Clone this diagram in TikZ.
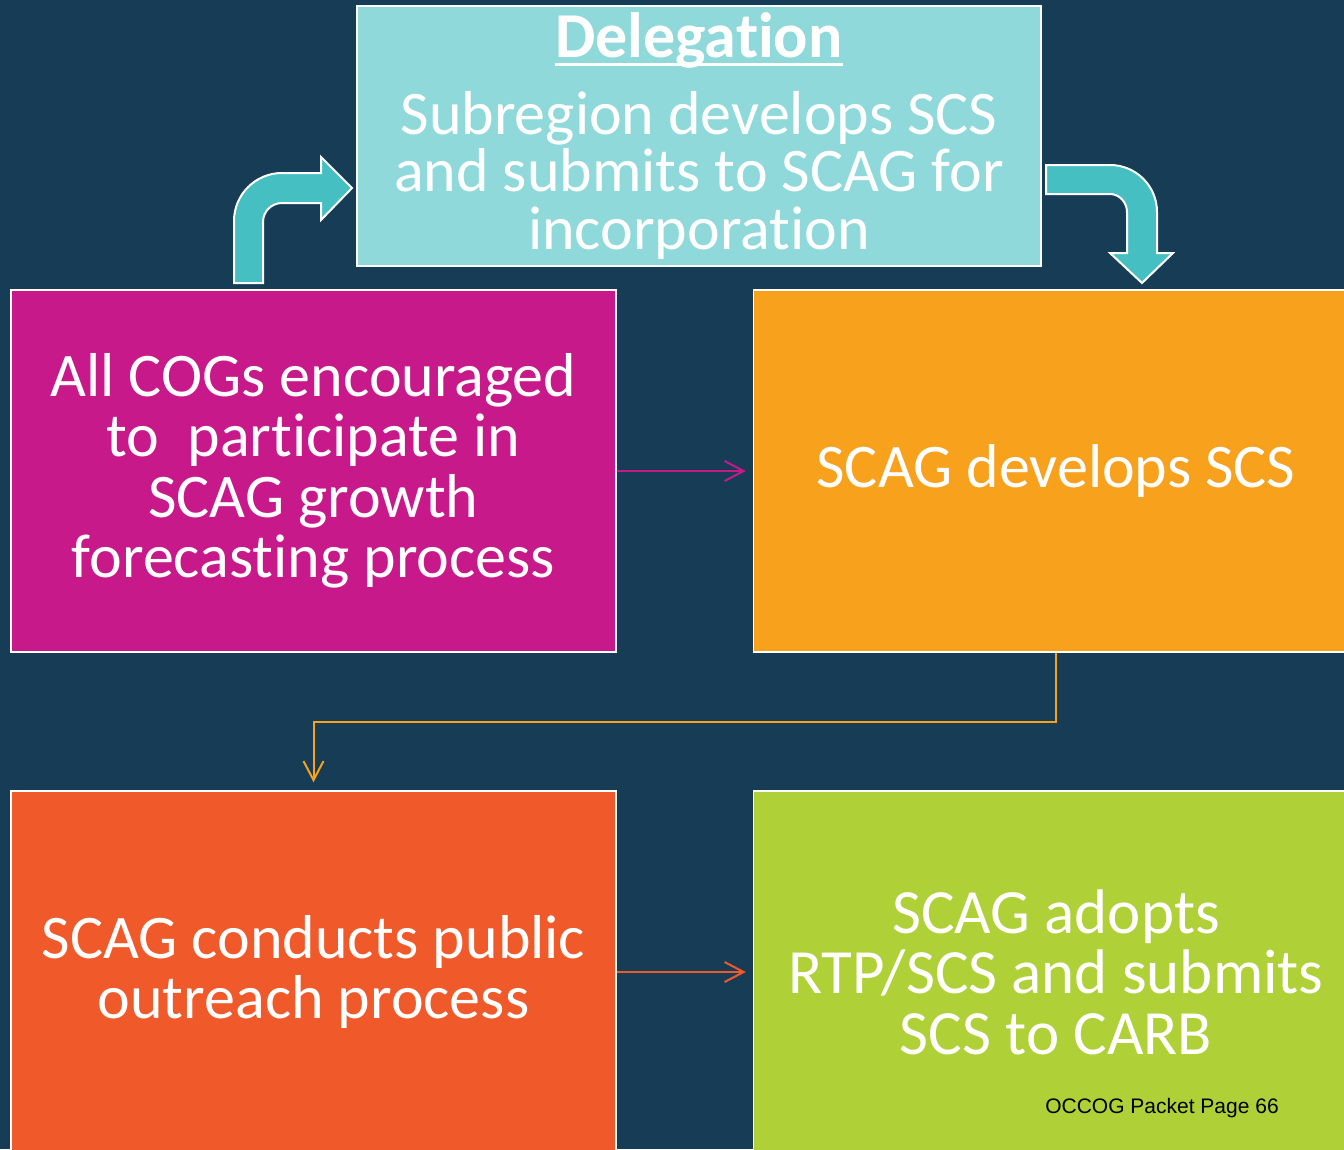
\documentclass[tikz,border=0pt]{standalone}
\usepackage{fontspec}
\setmainfont[Ligatures=NoCommon]{Carlito}
\newfontfamily\footfont{Liberation Sans}
\usetikzlibrary{arrows.meta}

\definecolor{slate}{HTML}{173C56}
\definecolor{aqua}{HTML}{90D9DB}
\definecolor{turq}{HTML}{46BFC3}
\definecolor{berry}{HTML}{C8198A}
\definecolor{amber}{HTML}{F7A11C}
\definecolor{flame}{HTML}{F05A2B}
\definecolor{lime}{HTML}{AFD037}

\tikzset{
  stage/.style={draw=white, line width=1.5pt, text=white, align=center, inner sep=0pt,
    minimum width=605pt, minimum height=362pt, font=\fontsize{62}{60.5}\selectfont},
  bent/.style={fill=turq, draw=white, line width=2pt},
  link/.style={line width=2pt, -{Straight Barb[length=19pt,width=20pt]}},
}

\begin{document}
\begin{tikzpicture}[x=1pt,y=-1pt]
	\clip (0,0) rectangle (1344,1149);
	\fill[slate] (0,0) rectangle (1344,1149);

	% the delegation path on top
	\node[stage, fill=aqua, minimum width=684pt, minimum height=260pt] (deleg) at (699,136) {};
	\node[text=white, font=\fontsize{64}{60}\selectfont\bfseries, anchor=base, inner sep=0pt] (title) at (699,57) {Delegation};
	\draw[white, line width=3pt] ([yshift=-7pt]title.base west) -- ([yshift=-7pt]title.base east);
	\node[text=white, align=center, font=\fontsize{62}{57.5}\selectfont, inner sep=0pt] (body) at (699,175)
		{Subregion develops SCS\\and submits to SCAG for\\incorporation};

	% the four stages
	\node[stage, fill=berry] (cogs) at (313.5,471) {All COGs encouraged\\to\ \ participate in\\SCAG growth\\forecasting process};
	\node[stage, fill=amber] (develop) at (1056,471) {SCAG develops SCS};
	\node[stage, fill=flame] (outreach) at (313.5,972) {SCAG conducts public\\outreach process};
	\node[stage, fill=lime, font=\fontsize{63}{60.5}\selectfont] (adopt) at (1056,972) {SCAG adopts\\RTP/SCS and submits\\SCS to CARB};

	\node[font=\footfont\fontsize{21}{24}\selectfont, anchor=base, inner sep=0pt] (page) at (1162,1113) {OCCOG Packet Page 66};

	% bent arrows round the delegation box
	\draw[bent] (234,283) -- (234,221) .. controls (234,194.5) and (255.5,173) .. (282,173)
		-- (321,173) -- (321,157) -- (352,188) -- (321,220) -- (321,203) -- (282,203)
		.. controls (271.5,203) and (263,211.5) .. (263,222) -- (263,283) -- cycle;
	\draw[bent] (1046,165) -- (1110,165) .. controls (1136,165) and (1157,186) .. (1157,212)
		-- (1157,253) -- (1173,253) -- (1142,283) -- (1110,253) -- (1127,253) -- (1127,212)
		.. controls (1127,202.5) and (1119.5,194) .. (1110,194) -- (1046,194) -- cycle;

	% thin connectors
	\draw[link, berry] (cogs.east) -- ([xshift=-7pt]develop.west);
	\draw[link, amber] (develop.south) -- ++(0,69) -| ([yshift=8pt]outreach.north);
	\draw[link, flame] (outreach.east) -- ([xshift=-7pt]adopt.west);
\end{tikzpicture}
\end{document}
